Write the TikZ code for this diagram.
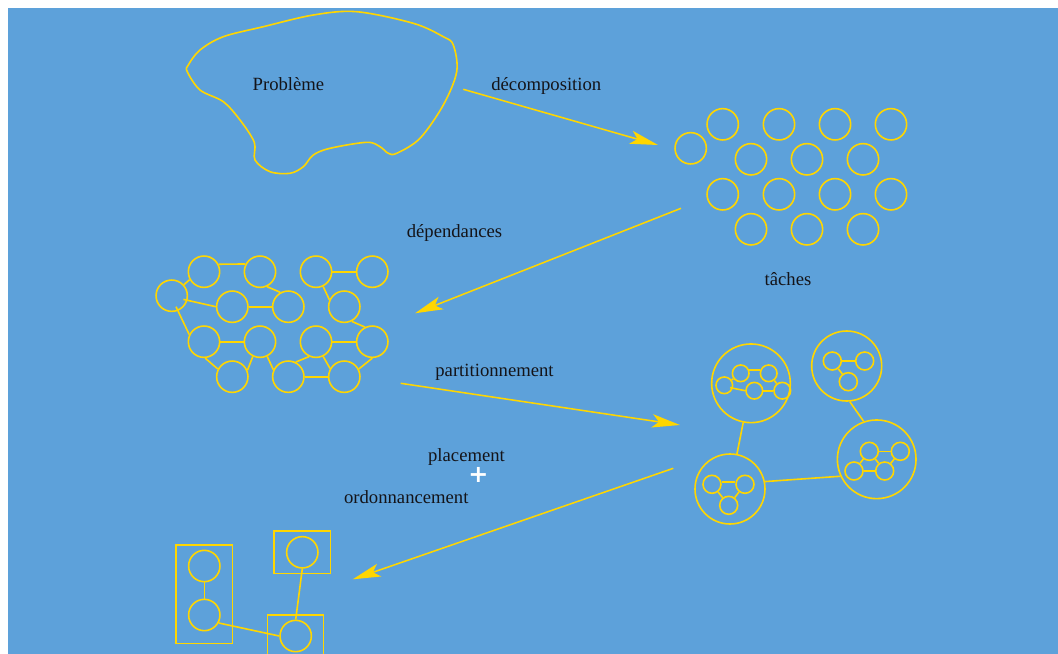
\documentclass[tikz,border=0pt]{standalone}
\usepackage{fontspec}
\setmainfont{Liberation Serif}
\newfontfamily\plusfont{DejaVu Sans}
\usetikzlibrary{arrows.meta,calc}
\definecolor{bg}{RGB}{93,161,218}
\definecolor{gold}{RGB}{255,214,0}
\definecolor{ink}{RGB}{20,20,25}
\begin{document}
\begin{tikzpicture}[x=0.75pt,y=-0.75pt,
  ln/.style={draw=gold,line width=1.2pt},
  tc/.style={circle,ln,inner sep=0pt,minimum size=23.5pt},
  bigA/.style={circle,ln,inner sep=0pt,minimum size=59pt},
  bigB/.style={circle,ln,inner sep=0pt,minimum size=52.5pt},
  sm/.style={circle,ln,inner sep=0pt,minimum size=12.5pt},
  smb/.style={circle,ln,inner sep=0pt,minimum size=13.5pt},
  box/.style={rectangle,ln,inner sep=0pt},
  lbl/.style={text=ink,font=\fontsize{14}{16}\selectfont,anchor=base,inner sep=0pt},
  arr/.style={draw=gold,line width=1.15pt,-{Stealth[length=21pt,width=10pt,inset=5pt]}}
]
\fill[white] (0,0) rectangle (1058,654);
\fill[bg] (8,8) rectangle (1058,654);
\useasboundingbox (0,0) rectangle (1058,654);

% cloud
\draw[ln] plot[smooth cycle,tension=0.55] coordinates {
 (187.3,71.7) (200,90) (223.3,101.7) (240,120) (254.3,142.3) (255,160)
 (270,171.7) (290,173.3) (303.3,166.7) (313.3,155) (330,148.3) (366.7,142.3)
 (380,146.7) (388.3,153.3) (396.7,153.3) (420,138.3) (443.3,105) (456.7,71.7)
 (453.3,45) (443.3,36.7) (413.3,23.3) (356.7,11.7) (313.3,15) (263.3,26.7)
 (223.3,36.7) (200,50) (188.3,65)};
\node[lbl] (prob) at (288.5,90) {Problème};

% taches
\foreach \n/\x/\y in {t1/722.7/124.3,t2/779/124.3,t3/835/124.3,t4/891/124.3,
  t5/690.7/148.3,t6/751/159.3,t7/807/159.3,t8/863/159.3,
  t9/722.7/194.3,t10/779/194.3,t11/835/194.3,t12/891/194.3,
  t13/751/229.3,t14/807/229.3,t15/863/229.3}
  \node[tc] (\n) at (\x,\y) {};
\node[lbl] (taches) at (788,285.5) {tâches};

% dependency graph
\foreach \n/\x/\y in {A/204/271.7,B/260/271.7,C/316/271.7,D/372.3/271.7,
  E/171.7/295.7,F/232.3/306.7,G/288.3/306.7,H/344.3/306.7,
  I/204/341.7,J/260/341.7,K/316/341.7,L/372.3/341.7,
  M/232.3/376.7,N/288.3/376.7,O/344.3/376.7}
  \node[tc] (\n) at (\x,\y) {};
\draw[ln] (A.27) -- (B.152);
\draw[ln] (E.42) -- (A.209);
\draw[ln] (B.-65) -- (G.119);
\draw[ln] ($(E)+(11.7,3.7)$) -- (F.west);
\draw[ln] (F.east) -- (G.west);
\draw[ln] ($(E)+(4.3,11)$) -- (I.154);
\draw[ln] (C.-64) -- (H.155);
\draw[ln] (C.east) -- (D.west);
\draw[ln] (H.-63) -- (L.117);
\draw[ln] (I.east) -- (J.west);
\draw[ln] (I.-86) -- (M.152);
\draw[ln] (J.-116) -- (M.23);
\draw[ln] (J.-64) -- (N.155);
\draw[ln] (K.east) -- (L.west);
\draw[ln] (K.-115) -- (N.63);
\draw[ln] (K.-64) -- (O.150);
\draw[ln] (N.east) -- (O.west);
\draw[ln] (L.-90) -- (O.28);

% partitions
\node[bigA] (P1) at (751,383.3) {};
\node[bigB] (P2) at (846.7,366) {};
\node[bigA] (P3) at (876.7,459.3) {};
\node[bigB] (P4) at (730,489) {};
\node[sm] (s11) at (740.7,373.3) {};
\node[sm] (s12) at (768.7,373.3) {};
\node[sm] (s13) at (724.3,385.3) {};
\node[sm] (s14) at (754.3,390.7) {};
\node[sm] (s15) at (782.3,390.7) {};
\draw[ln] (s11.23) -- (s12.157);
\draw[ln] (s13) -- (s11);
\draw[ln] ($(s13)+(5.7,2.3)$) -- (s14.west);
\draw[ln] (s14.east) -- (s15.west);
\draw[ln] (s12) -- (s15);
\node[smb] (q1) at (832.3,361) {};
\node[smb] (q2) at (864.7,361) {};
\node[smb] (q3) at (848.3,381.7) {};
\draw[ln] (q1.east) -- (q2.west);
\draw[ln] (q1) -- (q3);
\node[smb] (u1) at (869.3,451.3) {};
\node[smb] (u2) at (900.3,451.3) {};
\node[smb] (u3) at (854,471) {};
\node[smb] (u4) at (884.7,471) {};
\draw[ln] (u1.east) -- (u2.west);
\draw[ln] (u1) -- (u3);
\draw[ln] (u3.east) -- (u4.west);
\draw[ln] (u1) -- (u4);
\draw[ln] (u2) -- (u4);
\node[smb] (v1) at (712,484.3) {};
\node[smb] (v2) at (745,484.3) {};
\node[smb] (v3) at (728.7,505.3) {};
\draw[ln] (v1.12) -- (v2.168);
\draw[ln] (v1) -- (v3);
\draw[ln] (v2) -- (v3);
\draw[ln] (P1) -- (P4);
\draw[ln] (P2.-85) -- (P3.109);
\draw[ln] (P4.12) -- (P3.205);

% placement boxes
\node[box,minimum width=42.2pt,minimum height=73.7pt] (b1) at (204.2,594.2) {};
\node[box,minimum width=42.5pt,minimum height=31.7pt] (b2) at (302.3,552.2) {};
\node[box,minimum width=42pt,minimum height=31.5pt] (b3) at (295.3,636) {};
\node[tc] (c1) at (204.3,566) {};
\node[tc] (c2) at (204.3,615) {};
\node[tc] (c4) at (302.3,552.3) {};
\node[tc] (c3) at (295.7,636) {};
\draw[ln] (c1) -- (c2);
\draw[ln] (c2.-29) -- (c3.west);
\draw[ln] (c4.south) -- (c3.north);

% arrows and labels
\coordinate (a1s) at (463.3,89.3);
\coordinate (a1e) at (658,145);
\coordinate (a2s) at (681,208.3);
\coordinate (a2e) at (415,313.3);
\coordinate (a3s) at (400.7,383.3);
\coordinate (a3e) at (680,425);
\coordinate (a4s) at (673.3,468.3);
\coordinate (a4e) at (352.7,579.3);
\draw[arr] (a1s) -- (a1e);
\draw[arr] (a2s) -- (a2e);
\draw[arr] (a3s) -- (a3e);
\draw[arr] (a4s) -- (a4e);
\node[lbl] (dec) at (546.3,90) {décomposition};
\node[lbl] (dep) at (454.5,237.3) {dépendances};
\node[lbl] (part) at (494.5,376.7) {partitionnement};
\node[lbl] (plac) at (466.5,461.7) {placement};
\node[lbl] (ord) at (406.3,503.3) {ordonnancement};
\node[text=white,font=\plusfont\bfseries\fontsize{18}{18}\selectfont,inner sep=0pt,anchor=center] (plus) at (478.5,475) {+};
\end{tikzpicture}
\end{document}
